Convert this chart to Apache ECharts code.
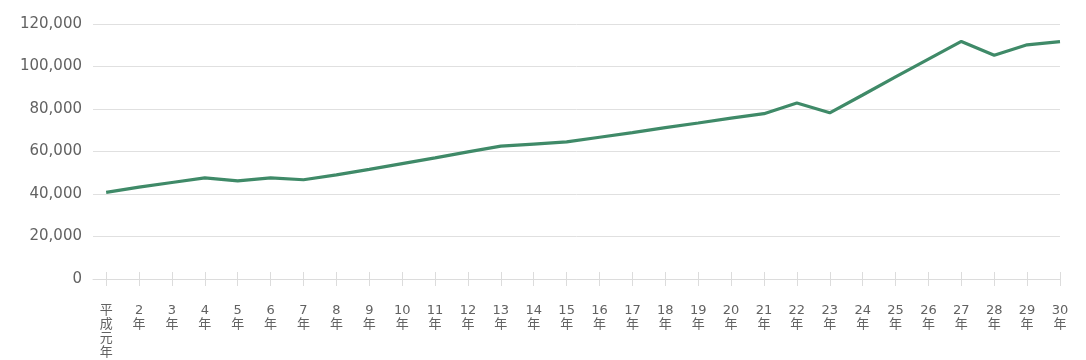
<!DOCTYPE html>
<html>
<head>
<meta charset="utf-8">
<script src="https://cdn.jsdelivr.net/npm/echarts@6/dist/echarts.min.js"></script>
<style>
html,body{margin:0;padding:0;background:#fff;}
#chart{width:1086px;height:360px;}
</style>
</head>
<body>
<div id="chart"></div>
<script>
// Categories (x tick labels)
const categories = ['平成元年','2年','3年','4年','5年','6年','7年','8年','9年','10年',
  '11年','12年','13年','14年','15年','16年','17年','18年','19年','20年',
  '21年','22年','23年','24年','25年','26年','27年','28年','29年','30年'];
// Series values
const values = [40800, 43200, 45400, 47600, 46200, 47600, 46700, 49000, 51600, 54300,
  57000, 59800, 62500, 63500, 64500, 66700, 68900, 71200, 73400, 75700,
  77800, 82800, 78200, 86600, 95100, 103500, 111800, 105300, 110200, 111700];
// Y tick values
const yTicks = [0, 20000, 40000, 60000, 80000, 100000, 120000];

const xPositions = categories.map((c, i) => i + 1);
const seriesData = values.map((v, i) => [xPositions[i], v]);
const FONT = '"DejaVu Sans", "Noto Sans CJK JP", sans-serif';

const chart = echarts.init(document.getElementById('chart'), null, {renderer: 'canvas'});
chart.setOption({
  animation: false,
  backgroundColor: '#ffffff',
  grid: {left: 93, right: 26, top: 24, bottom: 80, containLabel: false},
  xAxis: [{
    type: 'value',
    min: 0.6,
    max: 30,
    position: 'bottom',
    splitLine: {show: false},
    axisLine: {show: true, lineStyle: {color: '#dcdcdc', width: 1}},
    axisTick: {show: true, inside: false, length: 7, customValues: xPositions,
      lineStyle: {color: '#dcdcdc'}},
    axisLabel: {
      customValues: xPositions,
      margin: 25,
      color: '#626262',
      fontFamily: FONT,
      fontSize: 13,
      lineHeight: 14,
      verticalAlign: 'top',
      align: 'center',
      formatter: function (v) {
        const c = categories[Math.round(v) - 1] || '';
        if (c === '平成元年') return c.split('').join('\n');
        return c.replace('年', '') + '\n年';
      }
    }
  }, {
    type: 'value',
    min: 0.6,
    max: 30,
    position: 'bottom',
    splitLine: {show: false},
    axisLine: {show: false},
    axisTick: {show: true, inside: true, length: 7, customValues: xPositions,
      lineStyle: {color: '#dcdcdc'}},
    axisLabel: {show: false}
  }],
  yAxis: {
    type: 'value',
    min: yTicks[0],
    max: yTicks[yTicks.length - 1],
    interval: 20000,
    axisLine: {show: false},
    axisTick: {show: false},
    splitLine: {lineStyle: {color: '#e0e0e0', width: 1}},
    axisLabel: {
      margin: 11,
      color: '#626262',
      fontFamily: FONT,
      fontSize: 15,
      formatter: function (v) { return v.toLocaleString('en-US'); }
    }
  },
  series: [{
    type: 'line',
    xAxisIndex: 0,
    data: seriesData,
    showSymbol: false,
    smooth: false,
    lineStyle: {color: '#3f8a68', width: 3.2},
    itemStyle: {color: '#3f8a68'}
  }]
});
</script>
</body>
</html>
